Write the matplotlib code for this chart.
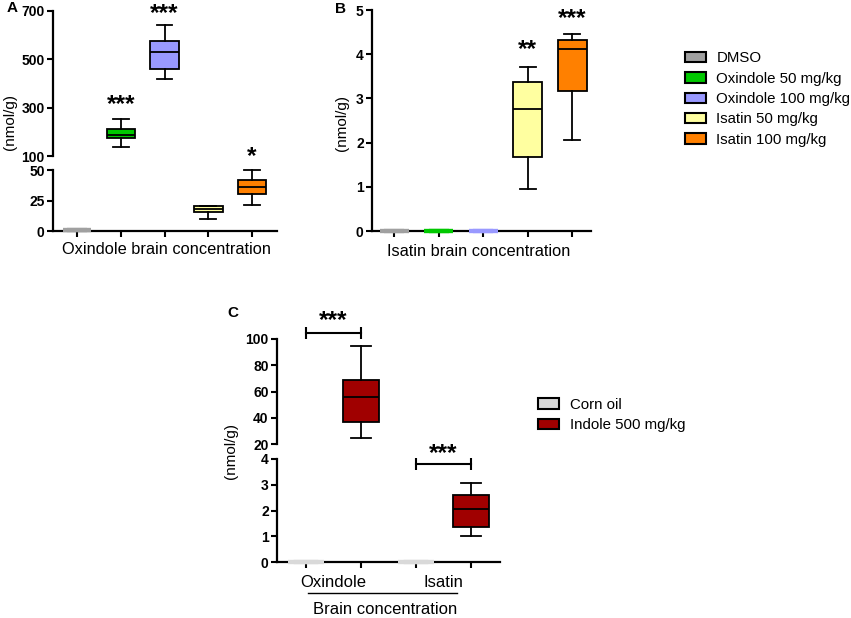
import matplotlib
matplotlib.use('Agg')
import matplotlib.pyplot as plt
from matplotlib.patches import Patch

plt.rcParams['font.family'] = ['Liberation Sans', 'DejaVu Sans']

# panel A / B groups
groups = ['DMSO', 'Oxindole 50 mg/kg', 'Oxindole 100 mg/kg', 'Isatin 50 mg/kg', 'Isatin 100 mg/kg']
colors = ['#a0a0a0', '#00c800', '#9999ff', '#ffffa0', '#ff8000']
pos_ab = [1, 2, 3, 4, 5]

# A: oxindole brain concentration (nmol/g)
a_lo = [1, 137, 417, 10, 21]
a_q1 = [1, 175, 462, 15.5, 30]
a_med = [1, 185, 529, 18, 36]
a_q3 = [1, 212, 575, 20.3, 41.8]
a_hi = [1, 254, 642, 20.8, 50]
a_stars = ['', '***', '***', '', '*']
a_star_y = [0, 345, 722, 0, 67]

# B: isatin brain concentration (nmol/g)
b_lo = [0, 0, 0, 0.95, 2.06]
b_q1 = [0, 0, 0, 1.68, 3.17]
b_med = [0, 0, 0, 2.76, 4.12]
b_q3 = [0, 0, 0, 3.37, 4.32]
b_hi = [0, 0, 0, 3.71, 4.46]
b_stars = ['', '', '', '**', '***']
b_star_y = [0, 0, 0, 4.28, 4.98]

# C: indole treatment
c_groups = ['Corn oil', 'Indole 500 mg/kg']
c_colors = ['#d9d9d9', '#a00000']
c_cats = ['Oxindole', 'Isatin']
c_pos = [1, 2, 3, 4]
c_col = [c_colors[0], c_colors[1], c_colors[0], c_colors[1]]
c_lo = [0, 24.5, 0, 1.0]
c_q1 = [0, 36.6, 0, 1.35]
c_med = [0, 56, 0, 2.05]
c_q3 = [0, 69, 0, 2.6]
c_hi = [0, 94.7, 0, 3.08]

W, H = 851, 618
fig = plt.figure(figsize=(8.51, 6.18), dpi=100)


def rect(l, t, r, b):
    return [l / W, 1 - b / H, (r - l) / W, (b - t) / H]


def ftext(x, y, s, **kw):
    fig.text(x / W, 1 - y / H, s, **kw)


def style(ax, yticks, bottom=True):
    for s in ['top', 'right']:
        ax.spines[s].set_visible(False)
    ax.spines['left'].set_linewidth(1.6)
    ax.spines['bottom'].set_linewidth(1.6)
    ax.spines['bottom'].set_visible(bottom)
    ax.tick_params(width=1.5, length=4, labelsize=10, pad=2)
    ax.set_yticks(yticks, [str(t) for t in yticks], fontweight='bold')
    if not bottom:
        ax.tick_params(axis='x', bottom=False, labelbottom=False)
    ax.patch.set_visible(False)


def boxes(ax, idx, pos, lo, q1, med, q3, hi, cols):
    for i in idx:
        st = dict(whislo=lo[i], q1=q1[i], med=med[i], q3=q3[i], whishi=hi[i], fliers=[])
        flat = hi[i] - lo[i] < 1e-9
        edge = cols[i] if flat else 'black'
        lw = 3 if flat else 1.3
        art = ax.bxp([st], positions=[pos[i]], widths=0.65, capwidths=0.36,
                     patch_artist=True, showfliers=False, manage_ticks=False,
                     boxprops=dict(facecolor=cols[i], edgecolor=edge, linewidth=lw),
                     medianprops=dict(color=edge, linewidth=lw),
                     whiskerprops=dict(color=edge, linewidth=lw),
                     capprops=dict(color=edge, linewidth=lw))
        for k in art:
            for a in art[k]:
                a.set_clip_on(False)
                a.set_zorder(3 if flat else 2)


def star(ax, x, y, s):
    ax.annotate(s, xy=(x, y), xytext=(0, -10), textcoords='offset points',
                ha='center', va='baseline', fontsize=17.5, fontweight='bold',
                annotation_clip=False)


# ---- Panel A (broken axis)
axA1 = fig.add_axes(rect(53, 11, 277, 156))
axA2 = fig.add_axes(rect(53, 170, 277, 231))
for ax in (axA1, axA2):
    ax.set_xlim(0.45, 5.57)
axA1.set_ylim(100, 700)
axA2.set_ylim(0, 50)
style(axA1, [100, 300, 500, 700], bottom=False)
style(axA2, [0, 25, 50])
axA2.set_xticks(pos_ab, [])
up = [i for i in range(5) if a_hi[i] > 50]
low = [i for i in range(5) if a_hi[i] <= 50]
boxes(axA1, up, pos_ab, a_lo, a_q1, a_med, a_q3, a_hi, colors)
boxes(axA2, low, pos_ab, a_lo, a_q1, a_med, a_q3, a_hi, colors)
for i in range(5):
    if a_stars[i]:
        star(axA1 if a_star_y[i] > 100 else axA2, pos_ab[i], a_star_y[i], a_stars[i])
ftext(167, 254, 'Oxindole brain concentration', ha='center', va='baseline', fontsize=11.8)
ftext(10, 122, '(nmol/g)', rotation=90, ha='center', va='center', fontsize=11)
ftext(12, 8, 'A', ha='center', va='center', fontsize=11, fontweight='bold')

# ---- Panel B
axB = fig.add_axes(rect(372, 10, 591, 231))
axB.set_xlim(0.5, 5.42)
axB.set_ylim(0, 5)
style(axB, [0, 1, 2, 3, 4, 5])
axB.set_xticks(pos_ab, [])
boxes(axB, range(5), pos_ab, b_lo, b_q1, b_med, b_q3, b_hi, colors)
for i in range(5):
    if b_stars[i]:
        star(axB, pos_ab[i], b_star_y[i], b_stars[i])
ftext(479, 256, 'Isatin brain concentration', ha='center', va='baseline', fontsize=11.8)
ftext(342, 123, '(nmol/g)', rotation=90, ha='center', va='center', fontsize=11)
ftext(340, 9, 'B', ha='center', va='center', fontsize=11, fontweight='bold')

fig.legend(handles=[Patch(facecolor=c, edgecolor='black', linewidth=1.5) for c in colors],
           labels=groups, loc='center left', bbox_to_anchor=(685 / W, 1 - 99 / H),
           frameon=False, fontsize=10.8, handlelength=1.4, handleheight=0.7,
           handletextpad=0.7, labelspacing=0.43, borderpad=0, borderaxespad=0)

# ---- Panel C (broken axis)
axC1 = fig.add_axes(rect(277, 339, 500, 444))
axC2 = fig.add_axes(rect(277, 459, 500, 562))
for ax in (axC1, axC2):
    ax.set_xlim(0.47, 4.53)
axC1.set_ylim(20, 100)
axC2.set_ylim(0, 4)
style(axC1, [20, 40, 60, 80, 100], bottom=False)
style(axC2, [0, 1, 2, 3, 4])
axC2.set_xticks(c_pos, [])
upc = [i for i in range(4) if c_hi[i] > 4]
lowc = [i for i in range(4) if c_hi[i] <= 4]
boxes(axC1, upc, c_pos, c_lo, c_q1, c_med, c_q3, c_hi, c_col)
boxes(axC2, lowc, c_pos, c_lo, c_q1, c_med, c_q3, c_hi, c_col)

# significance brackets
axC1.plot([1, 2], [104.5, 104.5], color='black', lw=1.5, marker='|', ms=9, mew=1.5, clip_on=False)
star(axC1, 1.5, 119.6, '***')
axC2.plot([3, 4], [3.8, 3.8], color='black', lw=1.5, marker='|', ms=9, mew=1.5, clip_on=False)
star(axC2, 3.5, 4.5, '***')

ftext(333, 587, c_cats[0], ha='center', va='baseline', fontsize=12)
ftext(443, 587, c_cats[1], ha='center', va='baseline', fontsize=12)
fig.add_artist(plt.Line2D([308 / W, 457 / W], [1 - 593 / H, 1 - 593 / H], color='black', lw=1))
ftext(385, 614, 'Brain concentration', ha='center', va='baseline', fontsize=12)
ftext(231, 451, '(nmol/g)', rotation=90, ha='center', va='center', fontsize=11)
ftext(233, 313, 'C', ha='center', va='center', fontsize=11, fontweight='bold')

fig.legend(handles=[Patch(facecolor=c, edgecolor='black', linewidth=1.5) for c in c_colors],
           labels=c_groups, loc='center left', bbox_to_anchor=(538 / W, 1 - 415 / H),
           frameon=False, fontsize=10.8, handlelength=1.4, handleheight=0.7,
           handletextpad=0.7, labelspacing=0.43, borderpad=0, borderaxespad=0)

fig.savefig('out.png', dpi=100)
